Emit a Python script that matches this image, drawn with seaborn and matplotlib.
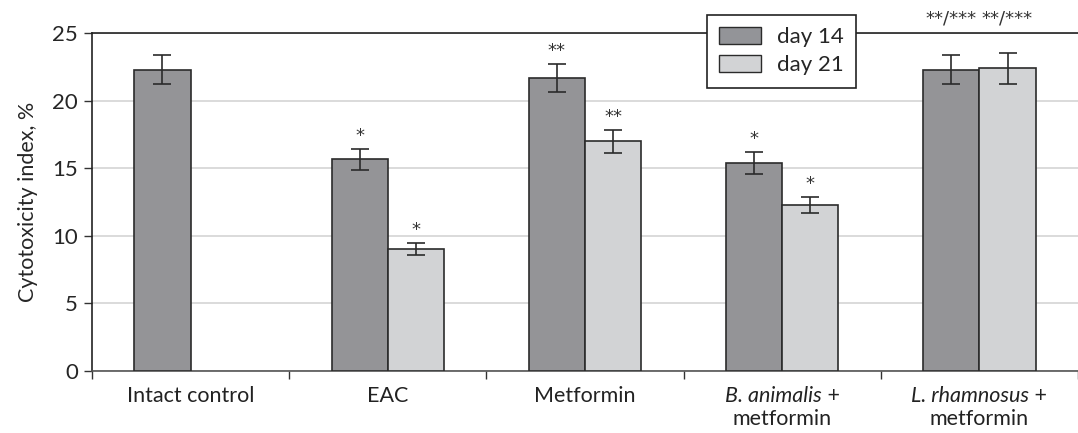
import numpy as np
import pandas as pd
import matplotlib
matplotlib.use("Agg")
import matplotlib.pyplot as plt
import seaborn as sns
from matplotlib.patches import Patch

sns.set_style("white")
plt.rcParams['font.family'] = ['Lato', 'DejaVu Sans']

# data
groups = ["Intact control", "EAC", "Metformin", "B. animalis + metformin", "L. rhamnosus + metformin"]
day14 = [22.3, 15.65, 21.65, 15.4, 22.3]
day14_err = [1.1, 0.8, 1.05, 0.8, 1.1]
day21 = [np.nan, 9.05, 17.0, 12.3, 22.4]
day21_err = [np.nan, 0.45, 0.85, 0.6, 1.15]
stars14 = ["", "*", "**", "*", "**/***"]
stars21 = ["", "*", "**", "*", "**/***"]

# label lines: (italic part, regular part) for each line
label_lines = [
    [("", "Intact control")],
    [("", "EAC")],
    [("", "Metformin")],
    [("B. animalis", " +"), ("", "metformin")],
    [("L. rhamnosus", " +"), ("", "metformin")],
]

df = pd.DataFrame({
    "group": groups * 2,
    "day": ["day 14"] * 5 + ["day 21"] * 5,
    "value": day14 + day21,
})

dark = "#939498"
light = "#d2d3d5"
edge = "#2b2b2b"
fs = 15.5

fig = plt.figure(figsize=(10.78, 4.33), dpi=100)
ax = fig.add_axes([92 / 1078, 1 - 371 / 433, 1 - 92 / 1078, (371 - 33) / 433])

sns.barplot(data=df, x="group", y="value", hue="day", order=groups,
            hue_order=["day 14", "day 21"], palette=[dark, light],
            width=0.57, errorbar=None, edgecolor=edge, linewidth=1.2,
            legend=False, ax=ax, zorder=3)

errs = {"day 14": (day14, day14_err, stars14), "day 21": (day21, day21_err, stars21)}
for cont, lvl in zip(ax.containers, ["day 14", "day 21"]):
    vals, ee, st = errs[lvl]
    for bar in cont:
        cx = bar.get_x() + bar.get_width() / 2
        i = int(round(cx))
        if np.isnan(vals[i]):
            continue
        ax.errorbar(cx, vals[i], yerr=ee[i], color=edge, capsize=6.5,
                    elinewidth=1.2, capthick=1.2, zorder=4)
        if st[i]:
            ytxt = vals[i] + ee[i] + 0.3
            if "/" in st[i]:
                ytxt = 25.4
            ax.text(cx, ytxt, st[i], ha="center", va="bottom", fontsize=13,
                    family=["DejaVu Sans"], color="#333333", clip_on=False)

ax.set_ylim(0, 25)
ax.set_xlim(-0.5, 4.44)
ax.set_yticks([0, 5, 10, 15, 20, 25])
ax.tick_params(axis="y", labelsize=16, length=6, width=1, color="#333333",
               left=True, pad=4)
ax.yaxis.grid(True, color="#d4d4d4", linewidth=1.2, zorder=0)
ax.xaxis.grid(False)
ax.set_axisbelow(True)

# ticks between categories, labels drawn as text
ax.set_xticks(np.arange(-0.5, 4.6, 1.0))
ax.set_xticklabels([])
ax.tick_params(axis="x", bottom=True, length=6, width=1, color="#333333")
ax.set_xlabel("")
ax.set_ylabel("Cytotoxicity index, %", fontsize=fs, labelpad=10)

for sp in ["left", "top", "bottom"]:
    ax.spines[sp].set_visible(True)
    ax.spines[sp].set_linewidth(1.2)
ax.spines["left"].set_color("#222222")
ax.spines["top"].set_color("#222222")
ax.spines["bottom"].set_color("#555555")
ax.spines["right"].set_visible(False)

trans = ax.get_xaxis_transform()
fig.canvas.draw()
r = fig.canvas.get_renderer()
for i, lines in enumerate(label_lines):
    for j, (ital, reg) in enumerate(lines):
        y = -0.045 - j * 0.068
        if ital:
            t = ax.text(i, y, ital, transform=trans, ha="center", va="top",
                        fontsize=fs, fontstyle="italic", color="#222222")
            t2 = ax.annotate(reg, xy=(1, 0), xycoords=t, ha="left", va="bottom",
                             fontsize=fs, color="#222222")
            # shift italic part so the whole line is centered
            w2 = t2.get_window_extent(r).width
            dx = (ax.transData.inverted().transform((w2 / 2, 0))[0]
                  - ax.transData.inverted().transform((0, 0))[0])
            t.set_x(i - dx)
        else:
            ax.text(i, y, reg, transform=trans, ha="center", va="top",
                    fontsize=fs, color="#222222")

handles = [Patch(facecolor=dark, edgecolor=edge, label="day 14"),
           Patch(facecolor=light, edgecolor=edge, label="day 21")]
leg = fig.legend(handles=handles, loc="upper left",
                 bbox_to_anchor=(707 / 1078, 1 - 15 / 433), fontsize=16,
                 frameon=True, fancybox=False, framealpha=1, edgecolor="#222222",
                 handlelength=1.9, handleheight=0.8, handletextpad=0.7,
                 borderpad=0.55, labelspacing=0.35, borderaxespad=0)
leg.get_frame().set_linewidth(1.2)
leg.set_zorder(10)

fig.savefig("out.png", dpi=100)
